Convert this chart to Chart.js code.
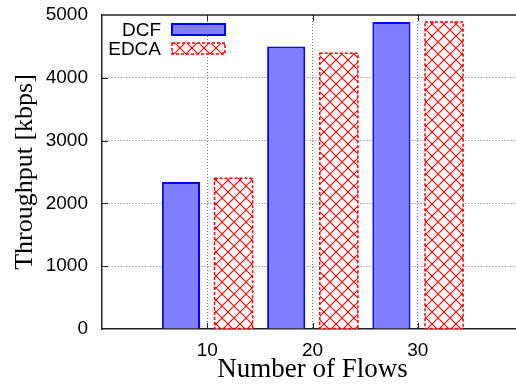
<!DOCTYPE html>
<html><head><meta charset="utf-8">
<script src="https://cdn.jsdelivr.net/npm/chart.js@4"></script>
<style>html,body{margin:0;padding:0;background:#fff;overflow:hidden;width:516px;height:388px;} #wrap{position:relative;width:516px;height:388px;overflow:hidden;} #c{position:absolute;left:0;top:0;}</style>
</head><body><div id="wrap"><canvas id="c" width="523" height="388"></canvas></div>
<script>
// ---- data ----
const categories = [10, 20, 30];
const dcfValues = [2340, 4500, 4890];
const edcaValues = [2400, 4390, 4890];
const seriesNames = ['DCF', 'EDCA'];
const xTickLabels = [10, 20, 30];
const xRange = [0, 40];
const yRange = [0, 5000];
const yStep = 1000;
const xTitle = 'Number of Flows';
const yTitle = 'Throughput [kbps]';

const SANS = "'Liberation Sans', Arial, Helvetica, sans-serif";
const SERIF = "'Liberation Serif', 'Times New Roman', serif";

const canvas = document.getElementById('c');
const mainCtx = canvas.getContext('2d');

function makeHatch() {
  const s = 12;
  const c = document.createElement('canvas'); c.width = s; c.height = s;
  const g = c.getContext('2d');
  g.fillStyle = '#fff'; g.fillRect(0, 0, s, s);
  g.strokeStyle = '#ff0000'; g.lineWidth = 1.1;
  g.beginPath();
  g.moveTo(-1, -1); g.lineTo(s + 1, s + 1);
  g.moveTo(s + 1, -1); g.lineTo(-1, s + 1);
  g.stroke();
  return mainCtx.createPattern(c, 'repeat');
}
const hatch = makeHatch();

const frameColor = '#222';

const framePlugin = {
  id: 'frame',
  afterDatasetsDraw(chart) {
    const ctx = chart.ctx;
    const meta = chart.getDatasetMeta(1);
    ctx.save();
    ctx.strokeStyle = '#ff0000';
    ctx.lineWidth = 1.5;
    ctx.setLineDash([3, 2]);
    meta.data.forEach(el => {
      const p = el.getProps(['x', 'y', 'base', 'width'], true);
      ctx.strokeRect(p.x - p.width / 2, p.y, p.width, p.base - p.y);
    });
    ctx.restore();
  },
  afterDraw(chart) {
    const ctx = chart.ctx;
    const a = chart.chartArea;
    const xs = chart.scales.x, ys = chart.scales.y;
    ctx.save();
    ctx.strokeStyle = frameColor;
    ctx.lineWidth = 1.5;
    ctx.beginPath();
    ctx.moveTo(a.left, a.top); ctx.lineTo(a.right + 2, a.top);
    ctx.stroke();
    ctx.lineWidth = 1;
    ctx.beginPath();
    xTickLabels.forEach(v => {
      const px = Math.round(xs.getPixelForValue(v)) + 0.5;
      ctx.moveTo(px, a.top); ctx.lineTo(px, a.top + 6);
      ctx.moveTo(px, a.bottom); ctx.lineTo(px, a.bottom - 6);
    });
    for (let v = yRange[0] + yStep; v < yRange[1]; v += yStep) {
      const py = Math.round(ys.getPixelForValue(v)) + 0.5;
      ctx.moveTo(a.left, py); ctx.lineTo(a.left + 6, py);
    }
    ctx.stroke();

    // legend
    const ds = chart.data.datasets;
    ctx.font = '19px ' + SANS;
    ctx.fillStyle = '#000';
    ctx.textAlign = 'right';
    ctx.textBaseline = 'middle';
    const rows = [30, 49];
    ds.forEach((d, i) => {
      const cy = rows[i];
      ctx.fillText(d.label, 161, cy + 1);
      const bx = 172, bw = 53, bh = 11, by = cy - 6;
      ctx.save();
      ctx.fillStyle = d.backgroundColor;
      ctx.fillRect(bx, by, bw, bh);
      if (i === 1) {
        ctx.strokeStyle = '#ff0000'; ctx.lineWidth = 1.5; ctx.setLineDash([3, 2]);
      } else {
        ctx.strokeStyle = d.borderColor; ctx.lineWidth = 2;
      }
      ctx.strokeRect(bx, by, bw, bh);
      ctx.restore();
    });
    ctx.restore();
  }
};

new Chart(canvas, {
  type: 'bar',
  data: {
    datasets: [
      {
        label: seriesNames[0],
        data: categories.map((c, i) => ({ x: c, y: dcfValues[i] })),
        backgroundColor: '#8080ff',
        borderColor: '#0000ff',
        borderWidth: 2,
        categoryPercentage: 1.0,
        barPercentage: 0.724
      },
      {
        label: seriesNames[1],
        data: categories.map((c, i) => ({ x: c, y: edcaValues[i] })),
        backgroundColor: hatch,
        borderWidth: 0,
        categoryPercentage: 1.0,
        barPercentage: 0.724
      }
    ]
  },
  options: {
    responsive: false,
    animation: false,
    devicePixelRatio: 1,
    layout: { padding: { top: 15, right: 0, left: 0, bottom: 0 } },
    plugins: { legend: { display: false }, tooltip: { enabled: false } },
    scales: {
      x: {
        type: 'linear',
        min: xRange[0], max: xRange[1],
        offset: false,
        afterFit: s => { s.height = 59; s.paddingLeft = 0; s.paddingRight = 0; },
        ticks: {
          stepSize: 10,
          autoSkip: false,
          maxRotation: 0,
          padding: 10,
          color: '#000',
          font: { family: SANS, size: 19 },
          callback: v => xTickLabels.includes(v) ? String(v) : ''
        },
        grid: {
          offset: false,
          drawTicks: false,
          color: c => (c.tick && xTickLabels.includes(c.tick.value)) ? '#777' : 'rgba(0,0,0,0)',
          lineWidth: 1
        },
        border: { display: true, color: frameColor, width: 1.5, dash: [1, 2] },
        title: {
          display: true, text: xTitle, color: '#000',
          font: { family: SERIF, size: 27, lineHeight: 1.2 },
          padding: { top: 0, bottom: 2 }
        }
      },
      y: {
        min: yRange[0], max: yRange[1],
        afterFit: s => { s.width = 102; s.paddingTop = 0; s.paddingBottom = 0; },
        ticks: {
          stepSize: yStep,
          padding: 14,
          color: '#000',
          font: { family: SANS, size: 19 },
          callback: v => String(v)
        },
        grid: {
          drawTicks: false,
          color: c => (c.tick && c.tick.value > yRange[0] && c.tick.value < yRange[1]) ? '#777' : 'rgba(0,0,0,0)',
          lineWidth: 1
        },
        border: { display: true, color: frameColor, width: 1.5, dash: [1, 2] },
        title: {
          display: true, text: yTitle, color: '#000',
          font: { family: SERIF, size: 26, lineHeight: 1.2 },
          padding: { top: 10, bottom: 0 }
        }
      }
    }
  },
  plugins: [framePlugin]
});
</script>
</body></html>
